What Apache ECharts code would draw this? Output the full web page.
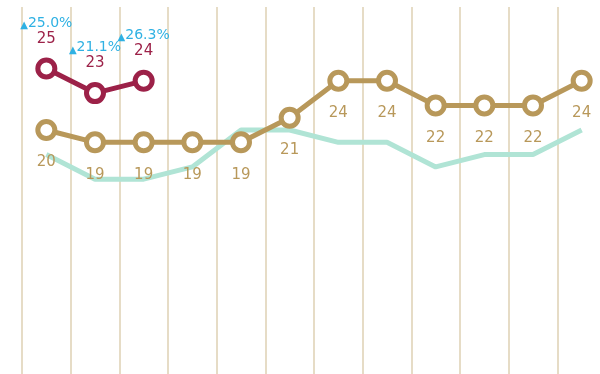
<!DOCTYPE html>
<html>
<head>
<meta charset="utf-8">
<style>
  html, body { margin: 0; padding: 0; background: #ffffff; }
  #chart { width: 600px; height: 374px; }
</style>
<script src="https://cdn.jsdelivr.net/npm/echarts@6/dist/echarts.min.js"></script>
</head>
<body>
<div id="chart"></div>
<script>
// Twelve periods along the x axis
const categories = ['1', '2', '3', '4', '5', '6', '7', '8', '9', '10', '11', '12'];

// Baseline series (gold, labelled underneath)
const baseValues = [20, 19, 19, 19, 19, 21, 24, 24, 22, 22, 22, 24];

// Current series (crimson, first three periods only)
const currentValues = [25, 23, 24, null, null, null, null, null, null, null, null, null];

// Reference band line (mint, unlabelled)
const refValues = [18, 16, 16, 17, 20, 20, 19, 19, 17, 18, 18, 20];

const FONT = '"DejaVu Sans", "Noto Sans", sans-serif';
const GOLD = '#b8985a';
const CRIMSON = '#9c2148';
const SKY = '#2fb1e3';
const MINT = '#b0e4d5';

// Growth of the current series over the baseline, e.g. 25 vs 20 -> 25.0%
function growthLabel(i) {
  const pct = (currentValues[i] / baseValues[i] - 1) * 100;
  return pct.toFixed(1) + '%';
}

const chart = echarts.init(document.getElementById('chart'), null, { renderer: 'canvas' });

chart.setOption({
  animation: false,
  backgroundColor: '#ffffff',
  grid: { left: 22, width: 584, top: 7, height: 369, containLabel: false, outerBoundsMode: 'none' },
  xAxis: {
    type: 'category',
    data: categories,
    boundaryGap: true,
    axisLine: { show: false },
    axisTick: { show: false },
    axisLabel: { show: false },
    splitLine: { show: true, lineStyle: { color: '#e6dcc6', width: 2 } }
  },
  yAxis: {
    type: 'value',
    min: 0,
    max: 30,
    show: false,
    splitLine: { show: false }
  },
  series: [
    {
      name: 'reference',
      type: 'line',
      data: refValues,
      symbol: 'none',
      lineStyle: { color: MINT, width: 5 },
      z: 1
    },
    {
      name: 'baseline',
      type: 'line',
      data: baseValues,
      symbol: 'circle',
      symbolSize: 17,
      lineStyle: { color: GOLD, width: 5 },
      itemStyle: { color: '#ffffff', borderColor: GOLD, borderWidth: 5 },
      label: {
        show: true,
        position: 'bottom',
        distance: 14,
        color: GOLD,
        fontFamily: FONT,
        fontSize: 15
      },
      z: 2
    },
    {
      name: 'current',
      type: 'line',
      data: currentValues,
      symbol: 'circle',
      symbolSize: 17,
      lineStyle: { color: CRIMSON, width: 5 },
      itemStyle: { color: '#ffffff', borderColor: CRIMSON, borderWidth: 5 },
      label: {
        show: true,
        position: 'top',
        distance: 10,
        formatter: function (p) {
          return '{tri|▲}{pct|' + growthLabel(p.dataIndex) + '}\n{val|' + p.value + '}';
        },
        rich: {
          tri: { color: SKY, fontSize: 10, fontFamily: FONT, lineHeight: 15, verticalAlign: 'bottom' },
          pct: { color: SKY, fontSize: 14, fontFamily: FONT, lineHeight: 15 },
          val: { color: CRIMSON, fontSize: 15, fontFamily: FONT, lineHeight: 17 }
        }
      },
      z: 3
    }
  ]
});
</script>
</body>
</html>
